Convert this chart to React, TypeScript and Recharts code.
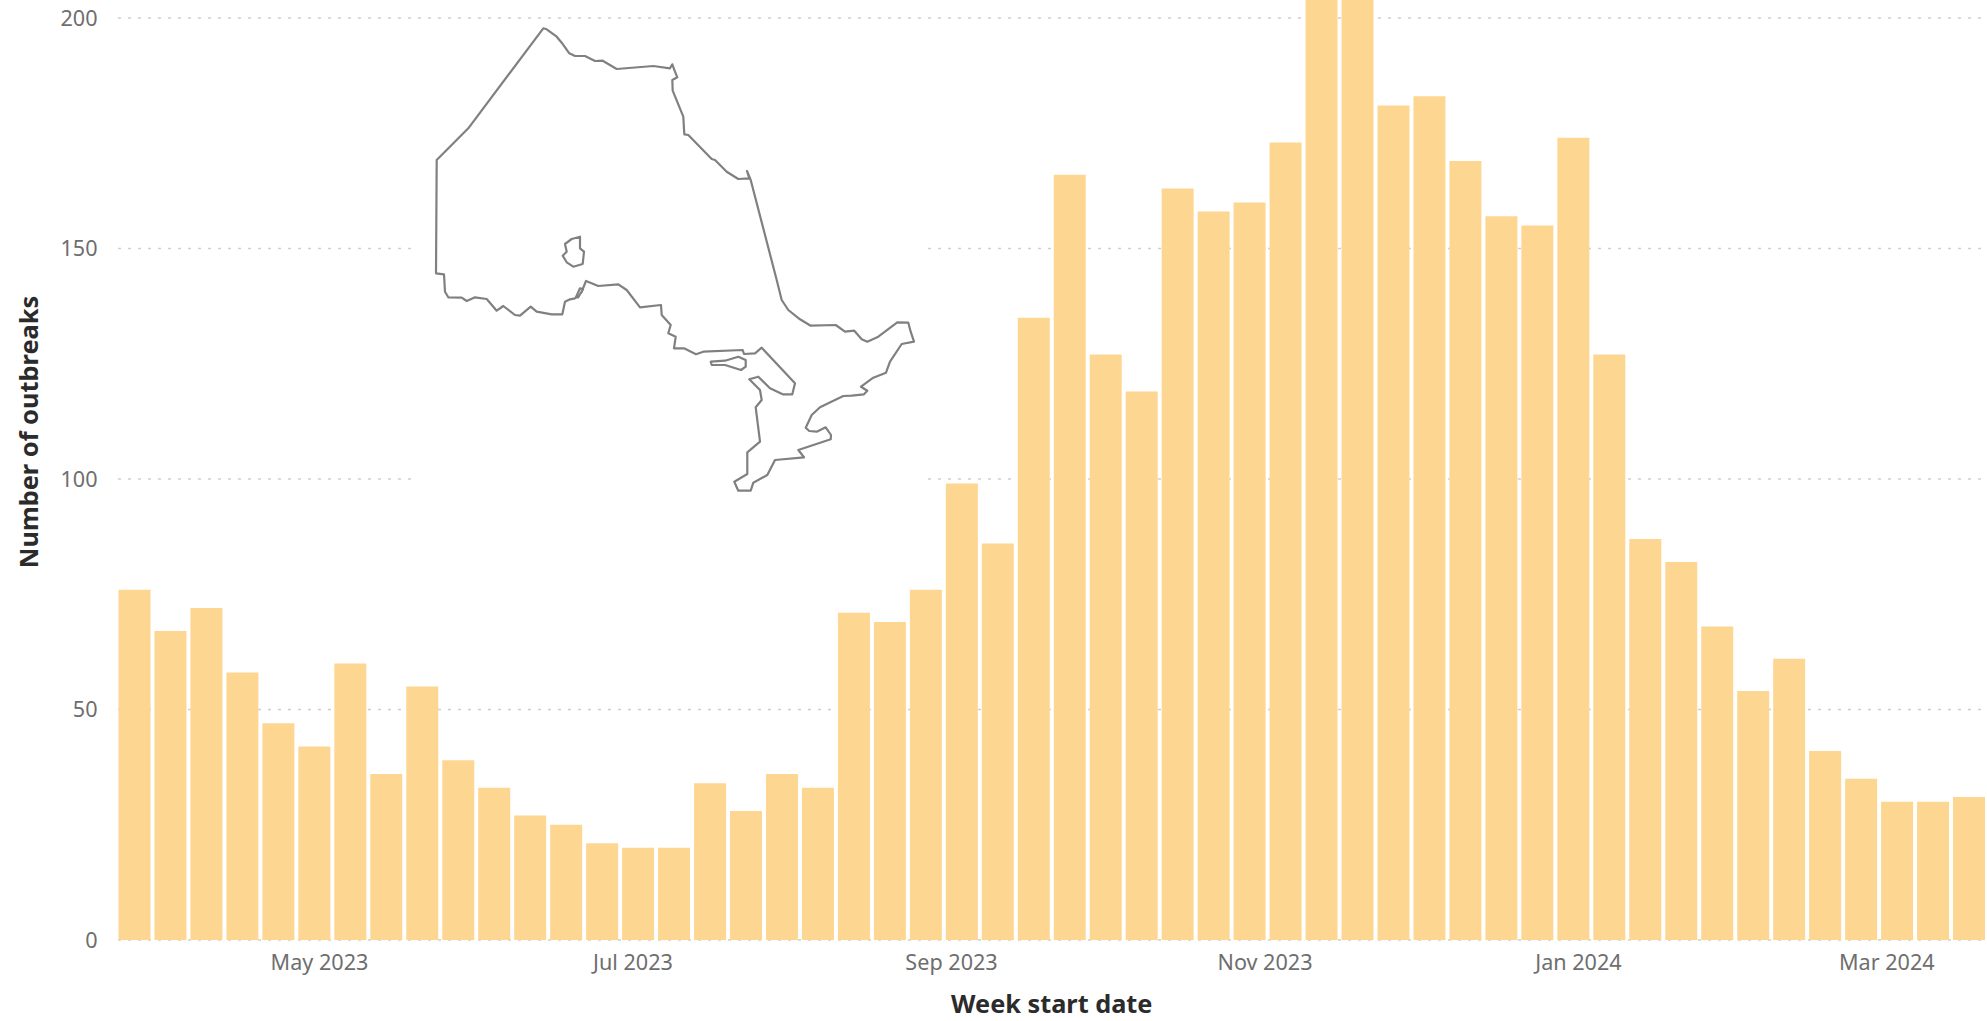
import React from "react";
import { BarChart, Bar, XAxis, YAxis, CartesianGrid, Customized, Label } from "recharts";

// Weekly outbreak counts, one entry per week start date.
const weekStarts = [
  "2023-03-26", "2023-04-02", "2023-04-09", "2023-04-16", "2023-04-23", "2023-04-30", "2023-05-07",
  "2023-05-14", "2023-05-21", "2023-05-28", "2023-06-04", "2023-06-11", "2023-06-18", "2023-06-25",
  "2023-07-02", "2023-07-09", "2023-07-16", "2023-07-23", "2023-07-30", "2023-08-06", "2023-08-13",
  "2023-08-20", "2023-08-27", "2023-09-03", "2023-09-10", "2023-09-17", "2023-09-24", "2023-10-01",
  "2023-10-08", "2023-10-15", "2023-10-22", "2023-10-29", "2023-11-05", "2023-11-12", "2023-11-19",
  "2023-11-26", "2023-12-03", "2023-12-10", "2023-12-17", "2023-12-24", "2023-12-31", "2024-01-07",
  "2024-01-14", "2024-01-21", "2024-01-28", "2024-02-04", "2024-02-11", "2024-02-18", "2024-02-25",
  "2024-03-03", "2024-03-10", "2024-03-17",
];
const outbreaks = [
  76, 67, 72, 58, 47, 42, 60, 36, 55, 39, 33, 27, 25, 21, 20, 20, 34, 28, 36, 33, 71, 69, 76, 99, 86, 135,
  166, 127, 119, 163, 158, 160, 173, 212, 209, 181, 183, 169, 157, 155, 174, 127, 87, 82, 68, 54, 61, 41,
  35, 30, 30, 31,
];
const valueTicks = [0, 50, 100, 150, 200];
const valueMax = 203.9;
const monthTicks = ["2023-05-01", "2023-07-01", "2023-09-01", "2023-11-01", "2024-01-01", "2024-03-01"];
const monthNames = ["Jan", "Feb", "Mar", "Apr", "May", "Jun", "Jul", "Aug", "Sep", "Oct", "Nov", "Dec"];

const DAY = 86400000;
const toTime = (iso: string) => Date.parse(iso + "T00:00:00Z");
const rows = weekStarts.map((week, i) => ({ time: toTime(week), count: outbreaks[i] }));
const timeDomain = [rows[0].time - 3.5 * DAY, rows[rows.length - 1].time + 3.5 * DAY];
const formatMonth = (t: number) => {
  const d = new Date(t);
  return `${monthNames[d.getUTCMonth()]} ${d.getUTCFullYear()}`;
};

// Province outline: mainland border, Lake Nipigon, a small sliver by Thunder Bay, and Manitoulin Island.
const provinceBorder = [
  [436.7, 160], [468.3, 128.3], [543.3, 28.3], [546.7, 29.3], [556.7, 36.7], [561.7, 42.7], [569.3, 53.3],
  [575, 56], [585, 56], [595, 61], [602.7, 60.7], [616.7, 69], [653.3, 66], [670, 68.3], [672.3, 64.3],
  [675, 71.7], [677.3, 77.3], [672.3, 80], [672.7, 90.7], [683.3, 116.7], [684.3, 134.3], [688.3, 135],
  [711.7, 159], [715, 160], [726.7, 171.7], [738.3, 179], [749.3, 178.3], [747, 171], [750.7, 180],
  [776.7, 280], [781.7, 300], [788.3, 310], [800, 319.3], [810.7, 325.7], [835.7, 325], [845, 331.7],
  [854.3, 330.7], [861.7, 339.3], [867.3, 341.7], [878.3, 336.7], [897.3, 322.3], [908.3, 322.7],
  [910.7, 331.7], [914, 341.7], [901.7, 344], [890, 361.7], [886, 372.7], [873.3, 377.7], [861, 386.7],
  [867.3, 390.7], [864, 394.3], [851.7, 395.7], [843.3, 396], [820, 407.3], [811.7, 415], [805.7, 427.7],
  [809.3, 431], [816.7, 431.7], [825.7, 427.3], [831, 435], [830.7, 439.3], [798.3, 450], [804, 457.3],
  [775, 460], [767.3, 475], [753.3, 482.7], [750.7, 490.7], [738.3, 490.7], [734.3, 481.7], [747.3, 474],
  [747.3, 452.3], [760, 441.7], [755.7, 407.3], [761.7, 400], [760, 390], [749.3, 379.3], [758.3, 376.7],
  [770, 388.3], [782.7, 394.3], [792.3, 394.3], [795, 383.3], [761.7, 347.7], [755, 353.3], [744, 354],
  [742.7, 350], [703.3, 351.7], [696, 354.3], [684, 348.3], [674, 348.3], [675.7, 336.7], [668.3, 333.3],
  [670.7, 325], [661.7, 315], [661, 305], [640, 307.3], [626.7, 290], [618.3, 284.3], [598.3, 286],
  [586, 281], [581.7, 291.7], [575, 298.3], [570, 299.3], [565, 301.7], [562.3, 314.3], [551.7, 314.3],
  [536.7, 311.7], [530.7, 306.7], [520, 315.7], [515, 315], [503.3, 306], [496.7, 310.7], [486.7, 299],
  [475, 297.3], [466.7, 301], [461.7, 297.7], [448.3, 297.3], [445, 291.7], [444, 274.3], [436, 273.3],
];
const lakeNipigon = [
  [580, 236.7], [571.7, 239], [565, 244], [566.7, 251.7], [562.7, 255.7], [566.7, 262.3], [573.3, 266.7],
  [582.7, 264], [584, 251.7], [580, 248.3],
];
const thunderBaySliver = [[576, 297.3], [580, 288.3], [583, 289.3], [578.3, 297.3]];
const manitoulin = [
  [710.7, 361.7], [725, 360.7], [738.3, 356.7], [745.7, 360], [745.7, 366.7], [741, 370], [725, 365], [711.7, 365],
];
const outlines = [provinceBorder, lakeNipigon, thunderBaySliver, manitoulin];
const toPath = (pts: number[][]) => "M" + pts.map((p) => p.join(",")).join("L") + "Z";

const FONT = "'Noto Sans', sans-serif";

// White inset holding the province outline; it sits over the gridlines.
const ProvinceMap = () => (
  <g>
    <rect x={415} y={24} width={512} height={476} fill="#ffffff" />
    {outlines.map((pts, i) => (
      <path key={i} d={toPath(pts)} fill="#ffffff" stroke="#808080" strokeWidth={2.2} strokeLinejoin="round" />
    ))}
  </g>
);

const YTitle = () => (
  <text
    x={28}
    y={432}
    transform="rotate(-90 28 432)"
    textAnchor="middle"
    dominantBaseline="central"
    fontFamily={FONT}
    fontWeight={700}
    fontSize={25.4}
    fill="#2b2b2b"
  >
    Number of outbreaks
  </text>
);

export default function App() {
  return (
    <div style={{ position: "absolute", left: 0, top: 0, background: "#ffffff" }}>
      <BarChart
        width={1987}
        height={1021}
        data={rows}
        margin={{ top: 0, right: 0, bottom: 0, left: 0 }}
        barSize={32}
      >
        <CartesianGrid
          vertical={false}
          syncWithTicks
          stroke="#cfcfcf"
          strokeWidth={1.3}
          strokeDasharray="3 7"
          strokeDashoffset={-1.5}
        />
        <XAxis
          dataKey="time"
          type="number"
          scale="linear"
          domain={timeDomain}
          ticks={monthTicks.map(toTime)}
          interval={0}
          tickFormatter={formatMonth}
          axisLine={false}
          tickLine={false}
          height={81}
          tickMargin={9}
          tick={{ fontFamily: FONT, fontSize: 21.6, fill: "#6e6e6e" }}
        >
          <Label
            value="Week start date"
            position="insideBottom"
            offset={8}
            style={{ fontFamily: FONT, fontWeight: 700, fontSize: 25.3, fill: "#2b2b2b" }}
          />
        </XAxis>
        <YAxis
          type="number"
          domain={[0, valueMax]}
          ticks={valueTicks}
          allowDataOverflow
          interval={0}
          width={116.5}
          axisLine={false}
          tickLine={false}
          tickMargin={13}
          tick={{ fontFamily: FONT, fontSize: 21.6, fill: "#6e6e6e" }}
        />
        <Customized component={ProvinceMap} />
        <Customized component={YTitle} />
        <Bar dataKey="count" fill="#fdd692" isAnimationActive={false} />
      </BarChart>
    </div>
  );
}
